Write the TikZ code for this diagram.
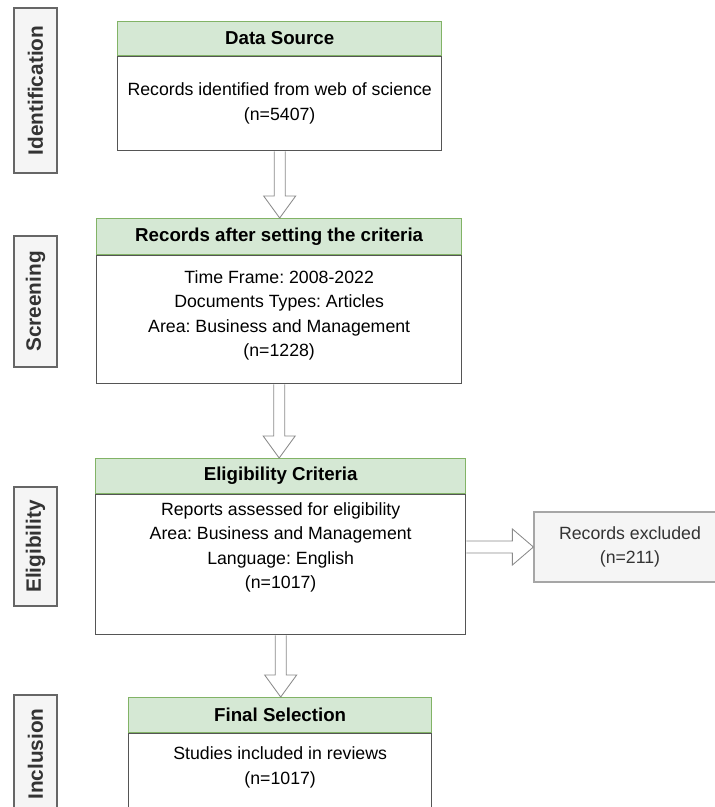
\documentclass[tikz,border=0pt]{standalone}
\usepackage{fontspec}
\setmainfont{Liberation Sans}
\usepackage{xcolor}
\usepackage{tikz}
\usetikzlibrary{positioning,calc}
\frenchspacing
\definecolor{headfillc}{HTML}{D5E8D4}
\definecolor{headc}{HTML}{82B366}
\definecolor{bodyc}{HTML}{555555}
\definecolor{stagefillc}{HTML}{F5F5F5}
\definecolor{stagec}{HTML}{666666}
\definecolor{stagetextc}{HTML}{333333}
\definecolor{excludec}{HTML}{A6A6A6}
\definecolor{arrowc}{HTML}{8A8A8A}
\tikzset{
  bodynode/.style={rectangle, draw=bodyc, fill=white, line width=0.9pt,
    anchor=north west, inner sep=0pt, align=center,
    font=\fontsize{12.6}{17.4}\selectfont},
  headnode/.style={rectangle, draw=headc, fill=headfillc, line width=0.7pt,
    inner sep=0pt, font=\fontsize{13.3}{15}\selectfont\bfseries},
  stagenode/.style={rectangle, draw=stagec, fill=stagefillc, line width=1.4pt,
    rotate=90, inner sep=0pt, minimum height=1.075cm, text=stagetextc,
    font=\fontsize{14.8}{17}\selectfont\bfseries},
  excludenode/.style={rectangle, draw=excludec, fill=stagefillc, line width=0.8pt,
    inner sep=0pt, align=center, text=stagetextc,
    font=\fontsize{12.6}{17.4}\selectfont},
  blockarrow/.style={draw=arrowc, fill=white, line width=0.6pt, line join=miter},
}

\begin{document}
\begin{tikzpicture}[x=0.025cm, y=-0.025cm]
  \useasboundingbox (0,0) rectangle (715,807);
  % stage labels on the left
  \node[stagenode, minimum width=4.125cm] (id-stage) at (35.5,90.5) {Identification};
  \node[stagenode, minimum width=3.275cm] (sc-stage) at (35.5,301.5) {Screening};
  \node[stagenode, minimum width=2.975cm] (el-stage) at (35.5,546.5) {Eligibility};
  \node[stagenode, minimum width=2.95cm] (in-stage) at (35.5,754) {Inclusion};

  % flow boxes
  \node[bodynode, minimum width=8.1cm, minimum height=2.35cm] (ds-body) at (117,56)
    {Records identified from web of science\\(n=5407)};
  \node[headnode, minimum width=8.1cm, minimum height=0.85cm, above=0pt of ds-body] (ds-head) {Data Source};

  \node[bodynode, minimum width=9.125cm, minimum height=3.2cm, text depth=0.3cm] (ra-body) at (96,255)
    {Time Frame: 2008-2022\\Documents Types: Articles\\Area: Business and Management\\(n=1228)};
  \node[headnode, minimum width=9.125cm, minimum height=0.9cm, above=0pt of ra-body] (ra-head) {Records after setting the criteria};

  \node[bodynode, minimum width=9.25cm, minimum height=3.5cm, text depth=0.95cm] (ec-body) at (95,494)
    {Reports assessed for eligibility\\Area: Business and Management\\Language: English\\(n=1017)};
  \node[headnode, minimum width=9.25cm, minimum height=0.875cm, above=0pt of ec-body] (ec-head) {Eligibility Criteria};

  \node[bodynode, minimum width=7.575cm, minimum height=2cm, text depth=0.4cm] (fs-body) at (128,733)
    {Studies included in reviews\\(n=1017)};
  \node[headnode, minimum width=7.575cm, minimum height=0.875cm, above=0pt of fs-body] (fs-head) {Final Selection};

  \node[excludenode, minimum width=4.8cm, minimum height=1.75cm] (ex-box) at (630,547)
    {Records excluded\\(n=211)};

  % block arrows
  \draw[blockarrow] ($(ds-body.south)+(-5.5,0)$) -- ($(ds-body.south |- ra-head.north)+(-5.5,-22)$)
    -- ++(-10.5,0) -- (ds-body.south |- ra-head.north) -- ++(16,-22) -- ++(-10.5,0)
    -- ($(ds-body.south)+(5.5,0)$);
  \draw[blockarrow] ($(ra-body.south)+(-5.5,0)$) -- ($(ra-body.south |- ec-head.north)+(-5.5,-22)$)
    -- ++(-10.5,0) -- (ra-body.south |- ec-head.north) -- ++(16,-22) -- ++(-10.5,0)
    -- ($(ra-body.south)+(5.5,0)$);
  \draw[blockarrow] ($(ec-body.south)+(-5.5,0)$) -- ($(ec-body.south |- fs-head.north)+(-5.5,-22)$)
    -- ++(-10.5,0) -- (ec-body.south |- fs-head.north) -- ++(16,-22) -- ++(-10.5,0)
    -- ($(ec-body.south)+(5.5,0)$);
  \draw[blockarrow] ($(ec-body.east |- ex-box.west)+(0,-6)$) -- ($(ex-box.west)+(-21,-6)$)
    -- ++(0,-12) -- (ex-box.west) -- ++(-21,18) -- ++(0,-12)
    -- ($(ec-body.east |- ex-box.west)+(0,6)$);
\end{tikzpicture}
\end{document}
